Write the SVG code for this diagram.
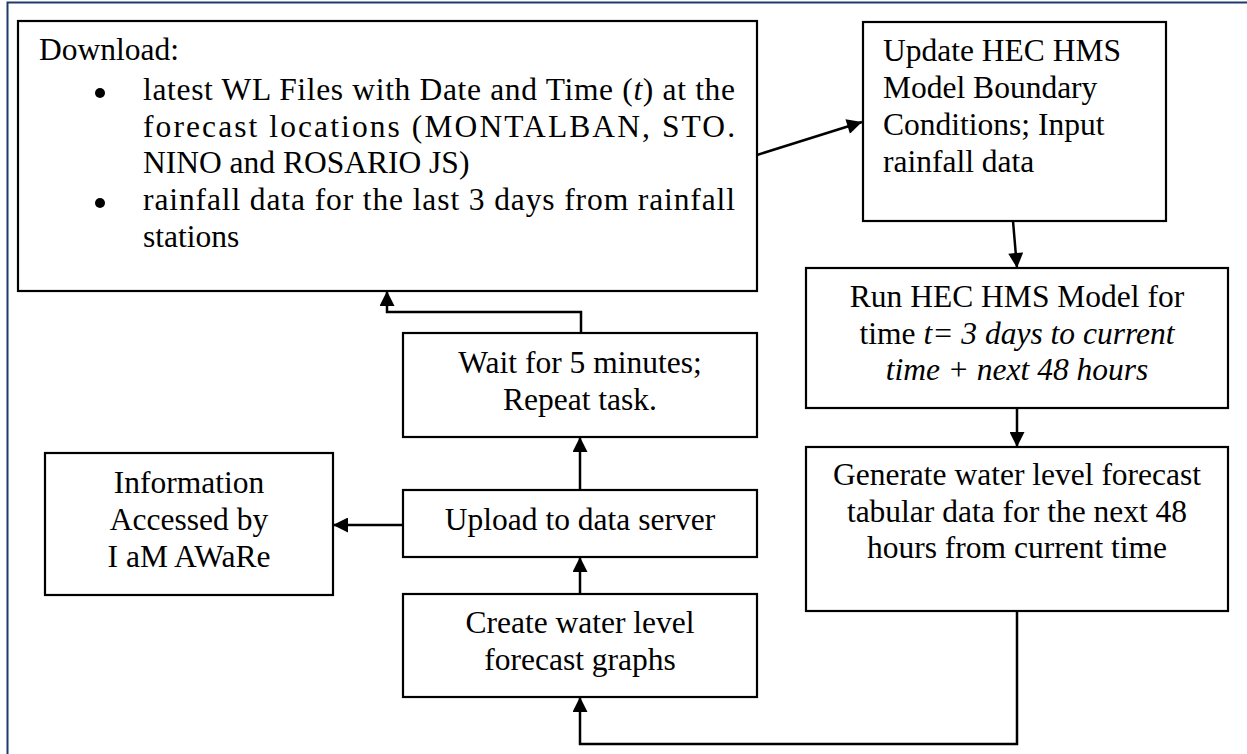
<svg xmlns="http://www.w3.org/2000/svg" width="1247" height="754" viewBox="0 0 1247 754">
<style>
.box{fill:#fff;stroke:#000;stroke-width:2.2}
.t{font-family:"Liberation Serif","Times New Roman",serif;font-size:31.5px;fill:#000}
.c{text-anchor:middle}
.i{font-style:italic}
.con{fill:none;stroke:#000;stroke-width:2.5}
</style>
<defs>
<marker id="ah" viewBox="0 0 10 10" refX="10" refY="5" markerWidth="16" markerHeight="15" markerUnits="userSpaceOnUse" orient="auto">
<path d="M0,0 L10,5 L0,10 z" fill="#000"/>
</marker>
</defs>
<rect width="1247" height="754" fill="#fff"/>
<path d="M7.5,754 V2.5 H1247" fill="none" stroke="#1f3a6e" stroke-width="2"/>

<g id="download">
<rect class="box" x="18" y="21" width="739" height="270"/>
<text class="t" x="39" y="60">Download:</text>
<circle cx="100" cy="93" r="5"/>
<circle cx="100" cy="203" r="5"/>
<text class="t" x="143" y="100" textLength="592" lengthAdjust="spacing">latest WL Files with Date and Time (<tspan class="i">t</tspan>) at the</text>
<text class="t" x="143" y="137" textLength="592" lengthAdjust="spacing">forecast locations (MONTALBAN, STO.</text>
<text class="t" x="143" y="173">NINO and ROSARIO JS)</text>
<text class="t" x="143" y="210" textLength="592" lengthAdjust="spacing">rainfall data for the last 3 days from rainfall</text>
<text class="t" x="143" y="247">stations</text>
</g>

<g id="update">
<rect class="box" x="863" y="22" width="303" height="199"/>
<text class="t" x="883" y="61">Update HEC HMS</text>
<text class="t" x="883" y="98">Model Boundary</text>
<text class="t" x="883" y="135">Conditions; Input</text>
<text class="t" x="883" y="172">rainfall data</text>
</g>

<g id="run">
<rect class="box" x="806" y="268" width="422" height="140"/>
<text class="t c" x="1017" y="307">Run HEC HMS Model for</text>
<text class="t c" x="1017" y="344">time <tspan class="i">t= 3 days to current</tspan></text>
<text class="t c i" x="1017" y="380">time + next 48 hours</text>
</g>

<g id="generate">
<rect class="box" x="806" y="447" width="422" height="164"/>
<text class="t c" x="1017" y="485">Generate water level forecast</text>
<text class="t c" x="1017" y="522">tabular data for the next 48</text>
<text class="t c" x="1017" y="558">hours from current time</text>
</g>

<g id="wait">
<rect class="box" x="403" y="333" width="354" height="104"/>
<text class="t c" x="580" y="373">Wait for 5 minutes;</text>
<text class="t c" x="580" y="410">Repeat task.</text>
</g>

<g id="upload">
<rect class="box" x="403" y="490" width="354" height="67"/>
<text class="t c" x="580" y="530">Upload to data server</text>
</g>

<g id="create">
<rect class="box" x="403" y="594" width="354" height="103"/>
<text class="t c" x="580" y="633">Create water level</text>
<text class="t c" x="580" y="670">forecast graphs</text>
</g>

<g id="info">
<rect class="box" x="45" y="453" width="288" height="142"/>
<text class="t c" x="189" y="493">Information</text>
<text class="t c" x="189" y="530">Accessed by</text>
<text class="t c" x="189" y="567">I aM AWaRe</text>
</g>

<g id="connectors">
<path class="con" d="M757,155 L862,122" marker-end="url(#ah)"/>
<path class="con" d="M1013,221 L1017,268" marker-end="url(#ah)"/>
<path class="con" d="M1017,408 V447" marker-end="url(#ah)"/>
<path class="con" d="M1017,611 V744 H580 V697" marker-end="url(#ah)"/>
<path class="con" d="M580,594 V557" marker-end="url(#ah)"/>
<path class="con" d="M580,490 V437" marker-end="url(#ah)"/>
<path class="con" d="M581,333 V312 H387 V291" marker-end="url(#ah)"/>
<path class="con" d="M403,525 H333" marker-end="url(#ah)"/>
</g>
</svg>
